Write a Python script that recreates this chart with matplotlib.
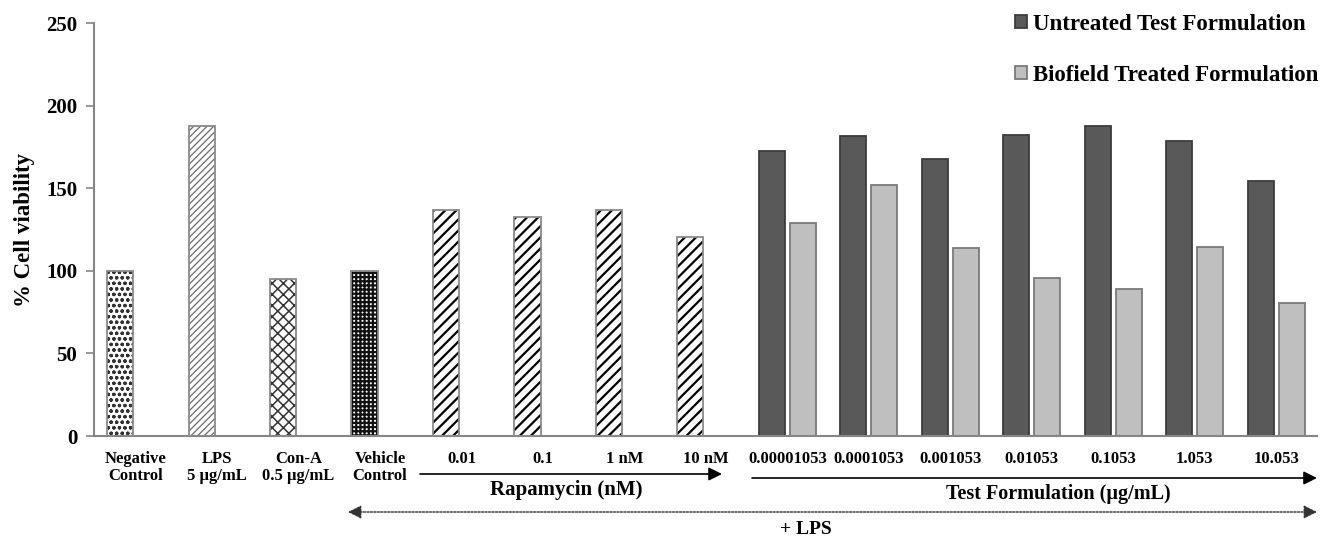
import matplotlib
matplotlib.use("Agg")
import matplotlib.pyplot as plt
import numpy as np

plt.rcParams['font.family'] = ['Liberation Serif', 'DejaVu Serif']
plt.rcParams['font.weight'] = 'bold'
plt.rcParams['axes.labelweight'] = 'bold'

# ── data ─────────────────────────────────────────────────────────────
control_labels = ["Negative\nControl", "LPS\n5 µg/mL", "Con-A\n0.5 µg/mL", "Vehicle\nControl",
                  "0.01", "0.1", "1 nM", "10 nM"]
control_values = [100, 187.7, 95, 100, 136.8, 132.4, 136.8, 120.6]

dose_labels = ["0.00001053", "0.0001053", "0.001053", "0.01053", "0.1053", "1.053", "10.053"]
untreated = [172.5, 181.6, 167.5, 182.2, 187.7, 178.6, 154.5]
biofield = [129.1, 151.8, 113.6, 95.8, 89.0, 114.2, 80.3]

legend_labels = ["Untreated Test Formulation", "Biofield Treated Formulation"]
y_ticks = [0, 50, 100, 150, 200, 250]

# ── styles ───────────────────────────────────────────────────────────
# (face, hatch colour, hatch, hatch linewidth) for each control bar
control_styles = [
    ('white', '#333333', 'ooo', 0.9),
    ('white', '#6a6a6a', '/////', 0.9),
    ('white', '#333333', 'xxx', 1.1),
    ('white', '#111111', '++++', 1.6),
    ('white', 'black', '///', 1.6),
    ('white', 'black', '///', 1.6),
    ('white', 'black', '///', 1.6),
    ('white', 'black', '///', 1.6),
]
W = 0.32        # bar width in category units
OFF = 0.38      # offset of second series
AXIS_GRAY = '#868686'

fig = plt.figure(figsize=(13.31, 5.41), dpi=100)
ax = fig.add_axes([94 / 1331, 105 / 541, 1223 / 1331, 412.7 / 541])

x_ctrl = np.arange(len(control_values))
for xi, v, (fc, hc, h, hlw) in zip(x_ctrl, control_values, control_styles):
    b = ax.bar(xi, v, width=W, color=fc, edgecolor=hc, hatch=h, linewidth=0, zorder=2)
    for p in b:
        if hasattr(p, 'set_hatch_linewidth'):
            p.set_hatch_linewidth(hlw)
    ax.bar(xi, v, width=W, fill=False, edgecolor='#8a8a8a', linewidth=1.3, zorder=3)

x_dose = np.arange(len(dose_labels)) + len(control_values)
b_dark = ax.bar(x_dose, untreated, width=W, color='#595959', edgecolor='#3c3c3c',
                linewidth=1.3, zorder=2, label=legend_labels[0])
b_light = ax.bar(x_dose + OFF, biofield, width=W, color='#bfbfbf', edgecolor='#7a7a7a',
                 linewidth=1.3, zorder=2, label=legend_labels[1])

ax.set_xlim(-0.32, 14.69)
ax.set_ylim(0, 250)
ax.set_yticks(y_ticks)
ax.tick_params(axis='y', direction='out', length=6, width=1.2, color=AXIS_GRAY,
               labelsize=15, pad=6)
ax.set_xticks(np.concatenate([x_ctrl, x_dose]) + OFF / 2)
ax.set_xticklabels(control_labels + dose_labels, fontsize=12, linespacing=1.1)
ax.tick_params(axis='x', length=0, pad=11)
for s in ['top', 'right']:
    ax.spines[s].set_visible(False)
for s in ['left', 'bottom']:
    ax.spines[s].set_color(AXIS_GRAY)
    ax.spines[s].set_linewidth(1.5)
ax.set_ylabel('% Cell viability', fontsize=16.5, labelpad=8)


def px(x, y):
    # top-left pixel coords -> figure pixels
    return (x, 541 - y)


arrow_kw = dict(arrowstyle='-|>', mutation_scale=20, lw=1.2, color='black',
                shrinkA=0, shrinkB=0)
ax.annotate('', xy=px(722, 474), xytext=px(420, 474), xycoords='figure pixels',
            textcoords='figure pixels', arrowprops=arrow_kw, annotation_clip=False)
ax.annotate('', xy=px(1317, 478), xytext=px(752, 478), xycoords='figure pixels',
            textcoords='figure pixels', arrowprops=arrow_kw, annotation_clip=False)
ax.annotate('', xy=px(1317, 512), xytext=px(348, 512), xycoords='figure pixels',
            textcoords='figure pixels', annotation_clip=False,
            arrowprops=dict(arrowstyle='<|-|>', mutation_scale=20, lw=1.0, color='#333333',
                            linestyle=(0, (1.5, 1)), shrinkA=0, shrinkB=0))

fig.text(566 / 1331, 1 - 490 / 541, 'Rapamycin (nM)', ha='center', va='center', fontsize=15)
fig.text(1058 / 1331, 1 - 494 / 541, 'Test Formulation (µg/mL)', ha='center', va='center',
         fontsize=14.5)
fig.text(806 / 1331, 1 - 530 / 541, '+ LPS', ha='center', va='center', fontsize=14)

fig.legend(handles=[b_dark, b_light], labels=legend_labels, loc='upper right',
           bbox_to_anchor=(1318 / 1331, 1 - 14 / 541), frameon=False,
           prop=dict(family='Liberation Serif', weight='bold', size=16.5),
           handlelength=0.5, handleheight=0.5, handletextpad=0.25,
           labelspacing=1.3, borderpad=0, borderaxespad=0)

fig.savefig('out.png', dpi=100)
